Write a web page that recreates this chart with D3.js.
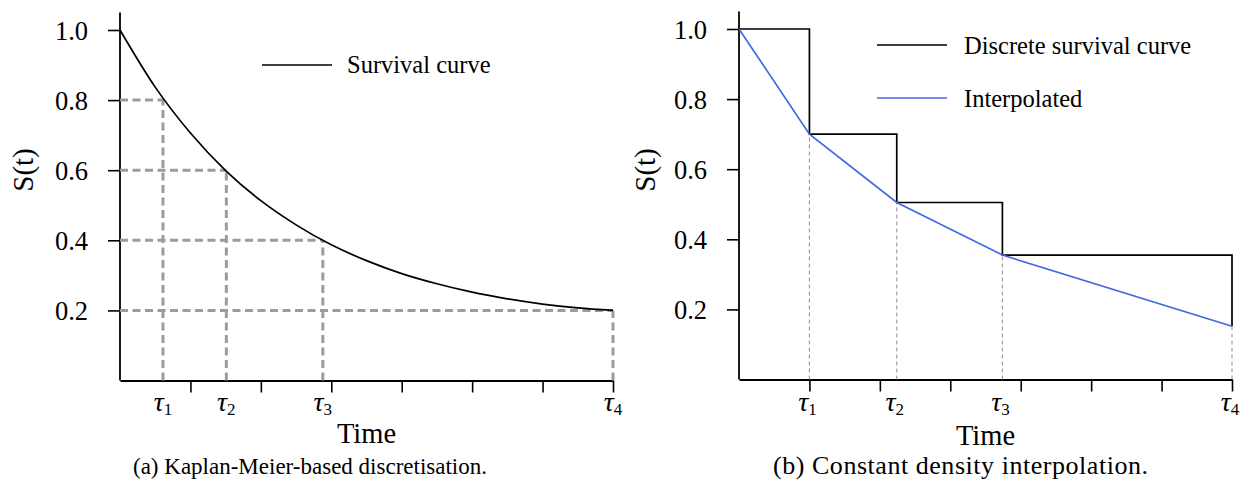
<!DOCTYPE html>
<html>
<head>
<meta charset="utf-8">
<script src="https://cdn.jsdelivr.net/npm/d3@7"></script>
<style>
  html, body { margin: 0; padding: 0; background: #fff; }
  svg { display: block; }
  svg text { font-family: 'Liberation Serif', 'DejaVu Serif', serif; fill: #000; }
</style>
</head>
<body>
<svg id="chart" width="1241" height="482"></svg>
<script>
// ---------------- data ----------------
// panel (a): continuous survival curve
const curveTimes = [0, 0.5, 1, 1.5, 2, 2.5, 3, 3.5, 4, 4.5, 5, 5.5, 6, 6.5, 7];
const curveS     = [1.0, 0.837, 0.706, 0.599, 0.513, 0.444, 0.387, 0.342, 0.305, 0.276, 0.252, 0.233, 0.218, 0.207, 0.200];
// Kaplan-Meier discretisation levels and their times
const kmLevels = [0.8, 0.6, 0.4, 0.2];
const kmTimes  = [0.61, 1.51, 2.88, 7];
// panel (b): discrete survival curve and interpolation knots
const knotTimes  = [0, 1, 2.24, 3.74, 7];
const discreteS  = [1.0, 0.70, 0.505, 0.355, 0.152];
// ticks
const yTickValues = [0.2, 0.4, 0.6, 0.8, 1.0];
const xTickValues = [1, 2, 3, 4, 5, 6, 7];
const tauLabels = ["1", "2", "3", "4"];
const legendA = ["Survival curve"];
const legendB = ["Discrete survival curve", "Interpolated"];
const captions = ["(a) Kaplan-Meier-based discretisation.", "(b) Constant density interpolation."];

// ---------------- drawing ----------------
const svg = d3.select("#chart");
const FONT = "'Liberation Serif', 'DejaVu Serif', serif";
const BLUE = "#4169e1";

function makePanel(cfg) {
  const g = svg.append("g");
  const x = d3.scaleLinear().domain([0, 7]).range([cfg.x0, cfg.x1]);
  const y = d3.scaleLinear().domain([0, 1]).range([cfg.y0, cfg.y1]);
  const yTop = 1.05;

  // y axis
  const ya = g.append("g").attr("transform", `translate(${cfg.x0},0)`)
    .call(d3.axisLeft(y).tickValues(yTickValues).tickSize(12).tickSizeOuter(0)
      .tickPadding(20).tickFormat(d3.format(".1f")));
  ya.attr("font-family", FONT);
  ya.select(".domain").remove();
  ya.append("line").attr("x1", 0).attr("x2", 0).attr("y1", y(0)).attr("y2", y(yTop))
    .attr("stroke", "#000").attr("stroke-width", 1.8);
  ya.selectAll(".tick line").attr("stroke-width", 1.6);
  ya.selectAll(".tick text").attr("font-family", FONT).attr("font-size", 26.5)
    .attr("dy", "0.36em");

  // x axis
  const xa = g.append("g").attr("transform", `translate(0,${y(0)})`)
    .call(d3.axisBottom(x).tickValues(xTickValues).tickSize(12).tickSizeOuter(0).tickFormat(""));
  xa.select(".domain").attr("stroke-width", 1.8);
  xa.selectAll(".tick line").attr("stroke-width", 1.6);

  // axis labels
  g.append("text").attr("transform", `translate(${cfg.ylabX},170) rotate(-90)`)
    .attr("font-family", FONT)
    .attr("text-anchor", "middle").attr("font-size", 29).text("S(t)");
  g.append("text").attr("x", (cfg.x0 + cfg.x1) / 2).attr("y", cfg.timeY)
    .attr("font-family", FONT)
    .attr("text-anchor", "middle").attr("font-size", 28.5).text("Time");
  // caption
  const cap = g.append("text").attr("x", cfg.capX).attr("y", 474)
    .attr("font-family", FONT)
    .attr("text-anchor", "start").attr("font-size", cfg.capSize).text(cfg.caption);
  if (cfg.capLen) cap.attr("textLength", cfg.capLen).attr("lengthAdjust", "spacing");
  return { g, x, y };
}

function tauLabel(g, xpos, i) {
  const tx = g.append("text").attr("x", xpos).attr("y", 411).attr("text-anchor", "middle")
    .attr("font-family", FONT);
  tx.append("tspan").attr("font-style", "italic").attr("font-size", 28).text("τ");
  tx.append("tspan").attr("font-size", 17).attr("dy", 4).text(tauLabels[i]);
}

// ---- panel (a)
const A = makePanel({ x0: 120, x1: 613, y0: 380.5, y1: 30, ylabX: 33, timeY: 443,
  capX: 133, capSize: 23, caption: captions[0] });
{
  const { g, x, y } = A;
  const dash = g.append("g").attr("stroke", "#9c9c9c").attr("stroke-width", 3)
    .attr("stroke-dasharray", "8,4.5").attr("fill", "none");
  kmLevels.forEach((lv, i) => {
    dash.append("line").attr("x1", x(0)).attr("x2", x(kmTimes[i]))
      .attr("y1", y(lv)).attr("y2", y(lv));
    dash.append("line").attr("x1", x(kmTimes[i])).attr("x2", x(kmTimes[i]))
      .attr("y1", y(0)).attr("y2", y(lv));
  });
  const line = d3.line().x((d, i) => x(curveTimes[i])).y(d => y(d)).curve(d3.curveMonotoneX);
  g.append("path").attr("d", line(curveS)).attr("fill", "none")
    .attr("stroke", "#000").attr("stroke-width", 1.7);

  kmTimes.forEach((t, i) => tauLabel(g, x(t), i));

  // legend
  g.append("line").attr("x1", 262).attr("x2", 332).attr("y1", 65).attr("y2", 65)
    .attr("stroke", "#000").attr("stroke-width", 1.7);
  g.append("text").attr("x", 347).attr("y", 73).attr("font-size", 24.5)
    .attr("font-family", FONT).text(legendA[0]);
}

// ---- panel (b)
const B = makePanel({ x0: 739, x1: 1232, y0: 379.5, y1: 29, ylabX: 655, timeY: 445,
  capX: 773, capSize: 26, capLen: 375, caption: captions[1] });
{
  const { g, x, y } = B;
  const dash = g.append("g").attr("stroke", "#999").attr("stroke-width", 1.1)
    .attr("stroke-dasharray", "4,3").attr("fill", "none");
  knotTimes.slice(1).forEach((t, i) => {
    dash.append("line").attr("x1", x(t)).attr("x2", x(t))
      .attr("y1", y(0)).attr("y2", y(discreteS[i + 1]));
  });
  // step curve
  const stepPts = [];
  for (let i = 0; i < knotTimes.length - 1; i++) {
    stepPts.push([knotTimes[i], discreteS[i]]);
    stepPts.push([knotTimes[i + 1], discreteS[i]]);
  }
  stepPts.push([knotTimes[knotTimes.length - 1], discreteS[discreteS.length - 1]]);
  const line = d3.line().x(d => x(d[0])).y(d => y(d[1]));
  g.append("path").attr("d", line(stepPts)).attr("fill", "none")
    .attr("stroke", "#000").attr("stroke-width", 1.7);
  // interpolated
  const interpPts = knotTimes.map((t, i) => [t, discreteS[i]]);
  g.append("path").attr("d", line(interpPts)).attr("fill", "none")
    .attr("stroke", BLUE).attr("stroke-width", 1.7);

  knotTimes.slice(1).forEach((t, i) => tauLabel(g, x(t) - 2, i));

  // legend
  const colors = ["#000", BLUE];
  [45, 98].forEach((ly, i) => {
    g.append("line").attr("x1", 877).attr("x2", 947).attr("y1", ly).attr("y2", ly)
      .attr("stroke", colors[i]).attr("stroke-width", 1.7);
    g.append("text").attr("x", 964).attr("y", ly + 8.5).attr("font-size", 24.5)
      .attr("font-family", FONT).text(legendB[i]);
  });
}
</script>
</body>
</html>
